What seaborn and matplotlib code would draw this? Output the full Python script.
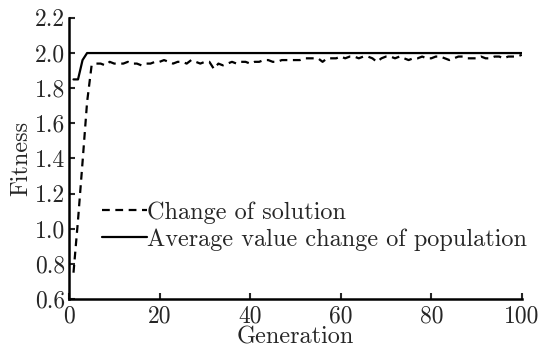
import numpy as np
import pandas as pd
import matplotlib
matplotlib.use("Agg")
import matplotlib.pyplot as plt
import seaborn as sns

generation = list(range(1, 101))
change_of_solution = [
    0.75, 1.05, 1.38, 1.72, 1.93, 1.94, 1.94, 1.93, 1.95, 1.94,
    1.94, 1.94, 1.95, 1.94, 1.94, 1.93, 1.94, 1.94, 1.95, 1.95,
    1.96, 1.95, 1.94, 1.95, 1.95, 1.94, 1.96, 1.95, 1.94, 1.95,
    1.95, 1.91, 1.94, 1.93, 1.94, 1.95, 1.94, 1.95, 1.95, 1.94,
    1.95, 1.95, 1.96, 1.96, 1.95, 1.95, 1.96, 1.96, 1.96, 1.96,
    1.96, 1.97, 1.97, 1.97, 1.97, 1.95, 1.97, 1.97, 1.97, 1.98,
    1.97, 1.98, 1.98, 1.97, 1.98, 1.98, 1.97, 1.95, 1.97, 1.98,
    1.98, 1.97, 1.98, 1.97, 1.96, 1.97, 1.97, 1.98, 1.97, 1.97,
    1.98, 1.98, 1.97, 1.96, 1.97, 1.98, 1.98, 1.97, 1.97, 1.97,
    1.98, 1.97, 1.97, 1.98, 1.98, 1.97, 1.98, 1.98, 1.98, 1.99,
]
average_value = [1.85, 1.85, 1.96] + [2.0] * 97

series_names = ["Change of solution", "Average value change of population"]
x_ticks = [0, 20, 40, 60, 80, 100]
y_ticks = [0.6, 0.8, 1.0, 1.2, 1.4, 1.6, 1.8, 2.0, 2.2]

df = pd.DataFrame({
    "Generation": generation * 2,
    "Fitness": change_of_solution + average_value,
    "Series": [series_names[0]] * len(generation) + [series_names[1]] * len(generation),
})

sns.set_theme(style="ticks")
plt.rcParams["font.family"] = ["cmr10", "DejaVu Serif"]
plt.rcParams["axes.formatter.use_mathtext"] = True
plt.rcParams["mathtext.fontset"] = "cm"

fig = plt.figure(figsize=(5.43, 3.51), dpi=100)
ax = fig.add_axes([0.127, 0.148, 0.834, 0.801])

sns.lineplot(data=df, x="Generation", y="Fitness", hue="Series", style="Series",
             palette=["black", "black"], dashes=[(3.5, 2.5), ""], linewidth=1.6,
             ax=ax, legend=True)

ax.set_xlim(0, 100)
ax.set_ylim(0.6, 2.2)
ax.set_xticks(x_ticks)
ax.set_yticks(y_ticks)
ax.set_yticklabels([f"{v:.1f}" for v in y_ticks])
ax.set_xticklabels([str(v) for v in x_ticks])
ax.tick_params(direction="in", length=4, width=1.5, labelsize=17)
ax.tick_params(axis="x", pad=4.5)
ax.tick_params(axis="y", pad=3)
for s in ["top", "right"]:
    ax.spines[s].set_visible(False)
for s in ["left", "bottom"]:
    ax.spines[s].set_linewidth(1.8)
    ax.spines[s].set_color("black")
ax.set_xlabel("Generation", fontsize=17.5, labelpad=-1)
ax.set_ylabel("Fitness", fontsize=17.5, labelpad=2)

leg = ax.legend(loc="upper left", bbox_to_anchor=(0.072, 0.347), frameon=False,
                fontsize=17.5, handlelength=1.85, handletextpad=0.0,
                labelspacing=0.18, borderaxespad=0, borderpad=0)
for h in leg.get_lines():
    h.set_linewidth(1.6)

fig.savefig("out.png", dpi=100)
